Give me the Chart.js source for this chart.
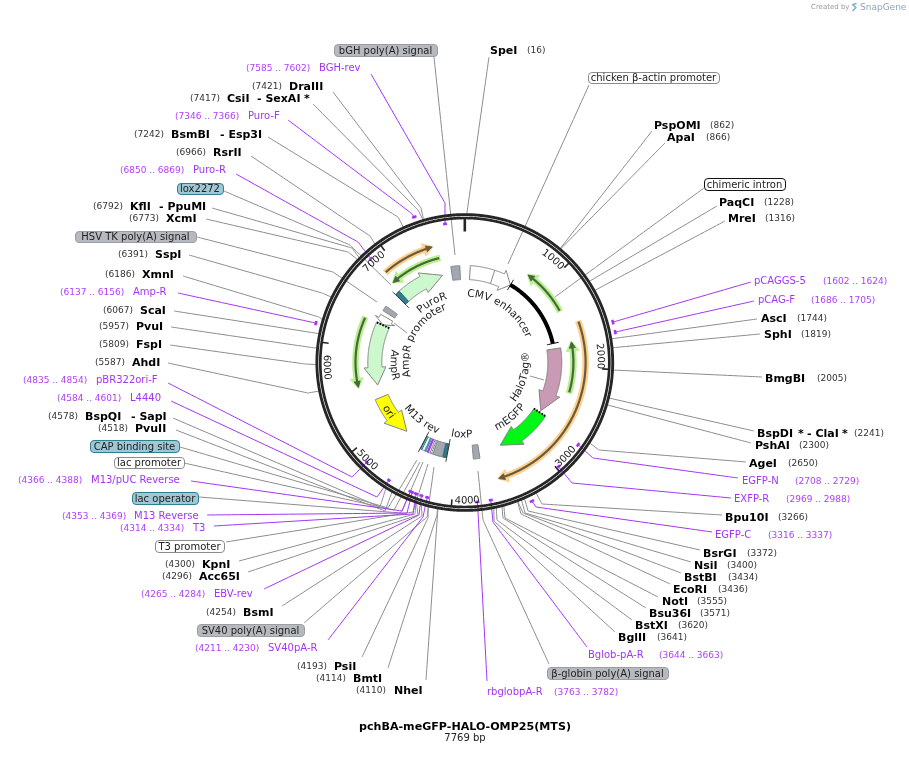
<!DOCTYPE html>
<html>
<head>
<meta charset="utf-8">
<title>pchBA-meGFP-HALO-OMP25(MTS)</title>
<style>
  html, body { margin: 0; padding: 0; background: #fff; }
  canvas { display: block; }
</style>
<script src="https://cdn.jsdelivr.net/npm/chart.js@4"></script>
</head>
<body>
<canvas id="mapa" width="909" height="775"></canvas>
<script>
// ===============================
// DATA
// ===============================
const plasmidName = "pchBA-meGFP-HALO-OMP25(MTS)";
const plasmidLength = 7769;
const tickValues = [1000, 2000, 3000, 4000, 5000, 6000, 7000];

const siteNames = ["SpeI", "PspOMI", "ApaI", "PaqCI", "MreI", "AscI", "SphI", "BmgBI", "BspDI", "PshAI", "AgeI", "Bpu10I", "BsrGI", "NsiI", "BstBI", "EcoRI", "NotI", "Bsu36I", "BstXI", "BglII", "NheI", "BmtI", "PsiI", "BsmI", "Acc65I", "KpnI", "PvuII", "BspQI", "AhdI", "FspI", "PvuI", "ScaI", "XmnI", "SspI", "XcmI", "KflI", "RsrII", "BsmBI", "CsiI", "DraIII"];
const sitePositions = [16, 862, 866, 1228, 1316, 1744, 1819, 2005, 2241, 2300, 2650, 3266, 3372, 3400, 3434, 3436, 3555, 3571, 3620, 3641, 4110, 4114, 4193, 4254, 4296, 4300, 4518, 4578, 5587, 5809, 5957, 6067, 6186, 6391, 6773, 6792, 6966, 7242, 7417, 7421];

const primerNames = ["pCAGGS-5", "pCAG-F", "EGFP-N", "EXFP-R", "EGFP-C", "Bglob-pA-R", "rbglobpA-R", "SV40pA-R", "EBV-rev", "T3", "M13 Reverse", "M13/pUC Reverse", "L4440", "pBR322ori-F", "Amp-R", "Puro-R", "Puro-F", "BGH-rev"];
const primerStarts = [1602, 1686, 2708, 2969, 3316, 3644, 3763, 4211, 4265, 4314, 4353, 4366, 4584, 4835, 6137, 6850, 7346, 7585];
const primerEnds = [1624, 1705, 2729, 2988, 3337, 3663, 3782, 4230, 4284, 4334, 4369, 4388, 4601, 4854, 6156, 6869, 7366, 7602];

const featureLabels = ["bGH poly(A) signal", "chicken β-actin promoter", "chimeric intron", "β-globin poly(A) signal", "SV40 poly(A) signal", "T3 promoter", "lac operator", "lac promoter", "CAP binding site", "HSV TK poly(A) signal", "lox2272"];

// ===============================
// LAYOUT (pixels of the 909x775 page)
// ===============================
const centro = { x: 464.8, y: 362.5 };

// [x of "(pos)", x of name, y, line start x, line start y, elbow x, elbow y]
const siteLayout = [
  [527, 490, 50, 489, 57, null, null],
  [710, 654, 125, 652, 131, null, null],
  [706, 667, 137, 665, 143, null, null],
  [764, 719, 202, 717, 206, null, null],
  [765, 728, 218, 725, 221, null, null],
  [797, 761, 318, 757, 319, null, null],
  [801, 764, 334, 760, 334, null, null],
  [817, 765, 378, 762, 377, null, null],
  [854, 757, 433, 754, 431, null, null],
  [799, 755, 445, 751, 443, null, null],
  [788, 749, 463, 746, 462, 599, 450],
  [778, 725, 517, 722, 515, 542, 504],
  [747, 703, 553, 700, 550, 528, 511],
  [727, 694, 565, 691, 562, 525, 513],
  [728, 684, 577, 681, 573, 523, 513],
  [718, 673, 589, 670, 584, 521, 514],
  [697, 662, 601, 658, 597, 505, 518],
  [700, 649, 613, 646, 608, 503, 518],
  [678, 635, 625, 632, 620, 497, 520],
  [657, 618, 637, 615, 632, 494, 521],
  [356, 394, 690, 426, 680, null, null],
  [316, 353, 678, 388, 668, 437, 515],
  [297, 334, 666, 362, 657, 428, 518],
  [206, 243, 612, 282, 606, 422, 516],
  [162, 199, 576, 248, 572, 418, 515],
  [165, 202, 564, 239, 561, 415, 514],
  [98, 135, 428, 176, 430, 385, 511],
  [48, 85, 416, 173, 418, 380, 507],
  [95, 132, 362, 168, 363, 308, 393],
  [99, 136, 344, 170, 345, 305, 364],
  [99, 136, 326, 171, 327, 315, 348],
  [103, 140, 310, 174, 311, 315, 333],
  [105, 142, 274, 183, 276, 319, 317],
  [118, 155, 254, 189, 255, 322, 293],
  [129, 166, 218, 206, 219, 348, 252],
  [93, 130, 206, 212, 208, 352, 248],
  [176, 213, 152, 251, 156, 370, 236],
  [134, 171, 134, 268, 137, 398, 217],
  [190, 227, 98, 313, 104, 418, 210],
  [252, 289, 86, 333, 92, 421, 208]
];
const siteExtras = [["- SexAI", 257, 98], ["*", 304, 98], ["- Esp3I", 220, 134], ["- PpuMI", 159, 206], ["- SapI", 131, 416], ["*", 798, 433], ["- ClaI", 807, 433], ["*", 842, 433]];

// [x of "(range)", x of name, y, line start x, line start y, elbow x, elbow y, radius of the mark]
const primerLayout = [
  [823, 754, 281, 751, 282, null, null, 153.5],
  [811, 758, 300, 754, 301, null, null, 153.5],
  [795, 742, 481, 738, 478, 593, 458, 140],
  [786, 734, 499, 731, 498, 572, 483, 140],
  [768, 715, 535, 712, 532, 536, 507, 154],
  [659, 588, 655, 587, 647, 493, 522, 140],
  [554, 487, 692, 487, 681, null, null, 140],
  [195, 268, 648, 328, 640, 423, 517, 140],
  [141, 214, 594, 264, 589, 419, 515, 140],
  [120, 193, 528, 214, 526, 413, 514, 140],
  [62, 134, 516, 207, 515, 407, 513, 140],
  [18, 91, 480, 191, 481, 402, 511, 140],
  [57, 130, 398, 171, 401, 377, 497, 140],
  [23, 96, 380, 168, 383, 352, 477, 140],
  [60, 133, 292, 178, 293, null, null, 154],
  [120, 193, 170, 236, 174, 358, 242, 140],
  [175, 248, 116, 288, 120, 411, 213, 154],
  [246, 319, 68, 371, 74, 445, 203, 140]
];

// [box left, box right, box top, box bottom, style, line start x, y, elbow x, y, end x, y]
const featureLayout = [
  [334, 437, 44, 56, "gris", 434, 57, null, null, 455, 255],
  [588, 719, 72, 83, "blanco", 589, 85, null, null, 508, 264],
  [704, 785, 178, 190, "negro", 704, 188, null, null, 555, 297],
  [547, 668, 667, 679, "gris", 549, 664, 483, 520, 478, 471],
  [197, 304, 624, 636, "gris", 304, 623, 427, 517, 434, 467],
  [155, 224, 540, 552, "blanco", 226, 542, 413, 512, 428, 464],
  [132, 198, 492, 504, "azul", 199, 497, 401, 513, 423, 462],
  [114, 184, 457, 468, "blanco", 184, 463, 394, 510, 420, 462],
  [90, 179, 440, 452, "azul", 180, 447, 388, 508, 417, 460],
  [75, 196, 231, 242, "gris", 197, 237, 333, 272, 377, 302],
  [177, 223, 183, 194, "azul", 224, 191, 350, 245, 391, 285]
];

const estilosCaja = {
  gris: { fondo: "#b6babf", borde: "#9a9ea4" },
  blanco: { fondo: "#ffffff", borde: "#8c8c8c" },
  negro: { fondo: "#ffffff", borde: "#111111" },
  azul: { fondo: "#9fc8d4", borde: "#2f7f93" }
};

const COLOR_SITIO = "#8c8c8c";
const COLOR_PRIMER = "#a334f5";

// ===============================
// GEOMETRY HELPERS
// ===============================
function polar(bp, r) {
  const a = bp / plasmidLength * 2 * Math.PI;
  return { x: centro.x + r * Math.sin(a), y: centro.y - r * Math.cos(a) };
}

function arco(desde, hasta, r) {
  const pasos = Math.max(2, Math.ceil(Math.abs(hasta - desde) / 12));
  const puntos = [];
  for (let i = 0; i <= pasos; i++) {
    puntos.push(polar(desde + (hasta - desde) * i / pasos, r));
  }
  return puntos;
}

function pxABp(px, r) {
  return px / r / (2 * Math.PI) * plasmidLength;
}

const datasets = [];

function capa(data, opciones) {
  datasets.push(Object.assign({
    data: data,
    showLine: true,
    pointRadius: 0,
    borderWidth: 1,
    borderColor: COLOR_SITIO,
    // tension 0 makes Chart.js use its fast path, which breaks lines that go back on x
    tension: 0.0001,
    fill: false,
    borderCapStyle: "butt",
    order: -datasets.length
  }, opciones));
}

// Arrow shaped feature: body from inicio to cabeza, head ends at punta
function flecha(inicio, cabeza, punta, color, rIn, rOut, borde) {
  rIn = rIn || 83;
  rOut = rOut || 97;
  const puntos = arco(inicio, cabeza, rOut)
    .concat([polar(cabeza, rOut + 4), polar(punta, (rIn + rOut) / 2), polar(cabeza, rIn - 4)])
    .concat(arco(cabeza, inicio, rIn));
  puntos.push(puntos[0]);
  capa(puntos, { polyFill: color, borderColor: borde || "#7f7f7f" });
}

function bloque(a, b, color, borde, rIn, rOut) {
  rIn = rIn || 83;
  rOut = rOut || 97;
  const puntos = arco(a, b, rOut).concat(arco(b, a, rIn));
  puntos.push(puntos[0]);
  capa(puntos, { polyFill: color, borderColor: borde || color });
}

// Thin arc with a halo and an arrow head, as used for the translated regions
function arcoHalo(cola, punta, r, halo, linea) {
  const dir = Math.sign(punta - cola);
  const base = punta - dir * pxABp(9, r);
  capa(arco(cola, base, r), { borderColor: halo, borderWidth: 6.5 });
  const cabezaHalo = [polar(base, r + 6.5), polar(punta + dir * pxABp(1, r), r), polar(base, r - 6.5)];
  cabezaHalo.push(cabezaHalo[0]);
  capa(cabezaHalo, { polyFill: halo, borderColor: halo });
  const baseLinea = punta - dir * pxABp(6, r);
  capa(arco(cola + dir * pxABp(1, r), baseLinea, r), { borderColor: linea, borderWidth: 2.2 });
  const cabeza = [polar(baseLinea, r + 3), polar(punta, r), polar(baseLinea, r - 3)];
  cabeza.push(cabeza[0]);
  capa(cabeza, { polyFill: linea, borderColor: linea });
}

function radial(bp, r1, r2, color, ancho, dash) {
  capa([polar(bp, r1), polar(bp, r2)], { borderColor: color, borderWidth: ancho, borderDash: dash || [] });
}

// ===============================
// LEADER LINES
// ===============================
function guia(ini, codo, fin, color) {
  const puntos = [ini];
  if (codo.x !== null) puntos.push(codo);
  puntos.push(fin);
  capa(puntos, { borderColor: color, borderWidth: 1 });
}

featureLabels.forEach((n, i) => {
  const f = featureLayout[i];
  guia({ x: f[5], y: f[6] }, { x: f[7], y: f[8] }, { x: f[9], y: f[10] }, COLOR_SITIO);
});
capa([{ x: 530, y: 376 }, { x: 544, y: 380 }], { borderColor: COLOR_SITIO });
capa([{ x: 394, y: 323 }, { x: 407, y: 333 }], { borderColor: COLOR_SITIO });

siteNames.forEach((n, i) => {
  const s = siteLayout[i];
  guia({ x: s[3], y: s[4] }, { x: s[5], y: s[6] }, polar(sitePositions[i], 148), COLOR_SITIO);
});

primerNames.forEach((n, i) => {
  const p = primerLayout[i];
  const medio = (primerStarts[i] + primerEnds[i]) / 2;
  guia({ x: p[3], y: p[4] }, { x: p[5], y: p[6] }, polar(medio, p[7]), COLOR_PRIMER);
});

// ===============================
// BACKBONE
// ===============================
capa(arco(0, plasmidLength, 147.9), { borderColor: "#262626", borderWidth: 2.9 });
capa(arco(0, plasmidLength, 144.5), { borderColor: "#262626", borderWidth: 2.7 });
radial(0, 131, 145, "#262626", 2.6);
tickValues.forEach(t => radial(t, 137.5, 145, "#262626", 1.6));

primerNames.forEach((n, i) => {
  capa(arco(primerStarts[i] - 8, primerEnds[i] + 8, primerLayout[i][7]), { borderColor: COLOR_PRIMER, borderWidth: 2.6 });
});

// ===============================
// FEATURES
// ===============================
arcoHalo(1336, 775, 108, "#b8f08e", "#47683a");
arcoHalo(2298, 1707, 108.6, "#b8f08e", "#47683a");
arcoHalo(7484, 6865, 107.5, "#b8f08e", "#47683a");
arcoHalo(6360, 5542, 109.3, "#b8f08e", "#47683a");
arcoHalo(1506, 3533, 120.8, "#fed08d", "#6a5a3e");
arcoHalo(6870, 7428, 120, "#fed08d", "#6a5a3e");

bloque(7590, 7705, "#a3a8b0", "#7f858c");
bloque(3690, 3775, "#a3a8b0", "#7f858c");
bloque(6525, 6595, "#a3a8b0", "#7f858c");

flecha(70, 520, 658, "#ffffff");
radial(388, 83, 97, "#7f7f7f", 1);

capa(arco(658, 1680, 90), { borderColor: "#000000", borderWidth: 4 });
radial(658, 84, 96, "#000000", 1);
radial(1680, 84, 96, "#000000", 1);

flecha(1755, 2375, 2641, "#c99ab3");
flecha(2670, 3108, 3384, "#00f614");
radial(2668, 83, 97, "#000000", 2, [1.5, 1.5]);

flecha(6816, 7174, 7459, "#cdf8cd");
bloque(6790, 6850, "#2f7f93", "#24616f", 83, 97);
radial(6785, 78, 101, "#333333", 1);

flecha(6360, 5760, 5514, "#cdf8cd");
flecha(6470, 6426, 6360, "#ffffff");
radial(6355, 83, 97, "#000000", 2, [1.5, 1.5]);

flecha(5340, 5030, 4750, "#ffff00");

// cluster around the lac region
bloque(4120, 4470, "#ffffff", "#7f7f7f");
bloque(4450, 4470, "#6fb6cb", "#2f7f93");
bloque(4395, 4412, "#6fb6cb", "#2f7f93");
bloque(4360, 4378, "#a334f5", "#a334f5");
bloque(4318, 4338, "#ffffff", "#7f7f7f");
bloque(4175, 4300, "#a3a8b0", "#7f858c");
bloque(4130, 4165, "#2f7f93", "#24616f");
radial(4476, 78, 101, "#333333", 1);
radial(4118, 78, 101, "#333333", 1);

// SnapGene mark next to the credit
capa([{ x: 856.5, y: 3.5 }, { x: 852.5, y: 4.5 }, { x: 856, y: 7.5 }, { x: 852.5, y: 11 }], { borderColor: "#7fb4cf", borderWidth: 1.6 });

// ===============================
// TEXT
// ===============================
const FUENTE = '"DejaVu Sans", Verdana, sans-serif';

function texto(ctx, s, x, y, fuente, color, align) {
  ctx.font = fuente + " " + FUENTE;
  ctx.fillStyle = color;
  ctx.textAlign = align || "left";
  ctx.textBaseline = "middle";
  ctx.fillText(s, x, y);
}

// Text following the circle. sentido 1 reads clockwise, -1 counter clockwise.
function textoCurvo(ctx, esc, s, grados, r, sentido, fuente) {
  ctx.font = fuente + " " + FUENTE;
  ctx.fillStyle = "#222222";
  ctx.textAlign = "left";
  ctx.textBaseline = "alphabetic";
  const total = ctx.measureText(s).width;
  let recorrido = -total / 2;
  for (const c of s) {
    const ancho = ctx.measureText(c).width;
    const ang = grados * Math.PI / 180 + sentido * (recorrido + ancho / 2) / r;
    const px = esc.x.getPixelForValue(centro.x + r * Math.sin(ang));
    const py = esc.y.getPixelForValue(centro.y - r * Math.cos(ang));
    ctx.save();
    ctx.translate(px, py);
    ctx.rotate(sentido > 0 ? ang : ang - Math.PI);
    ctx.fillText(c, -ancho / 2, 0);
    ctx.restore();
    recorrido += ancho;
  }
}

// Inner labels: text, centre angle, baseline radius, direction
const etiquetasInternas = [
  ["CMV enhancer", 35, 66, 1],
  ["PuroR", 331, 66, 1],
  ["AmpR promoter", 298, 56, 1],
  ["AmpR", 268, 74, -1],
  ["HaloTag®", 105, 64, -1],
  ["mEGFP", 140.5, 75, -1],
  ["M13 rev", 217, 76, -1],
  ["loxP", 182.5, 75, -1],
  ["ori", 237, 94, -1]
];

// Tick labels: centre angle, baseline radius, direction
const etiquetasTicks = [
  [40.6, 133, 1],
  [87.4, 133, 1],
  [133, 141, -1],
  [179, 141, -1],
  [225, 141, -1],
  [268, 141, -1],
  [318, 133, 1]
];

const mapaPlugin = {
  id: "mapaPlugin",
  beforeDatasetDraw(chart, args) {
    const ds = chart.data.datasets[args.index];
    if (!ds.polyFill) return;
    const ctx = chart.ctx;
    ctx.save();
    ctx.beginPath();
    args.meta.data.forEach((p, i) => {
      if (i === 0) ctx.moveTo(p.x, p.y); else ctx.lineTo(p.x, p.y);
    });
    ctx.closePath();
    ctx.fillStyle = ds.polyFill;
    ctx.fill();
    ctx.restore();
  },
  afterDatasetsDraw(chart) {
    const ctx = chart.ctx;
    const esc = chart.scales;
    const X = v => esc.x.getPixelForValue(v);
    const Y = v => esc.y.getPixelForValue(v);
    ctx.save();

    siteNames.forEach((n, i) => {
      const s = siteLayout[i];
      texto(ctx, "(" + sitePositions[i] + ")", X(s[0]), Y(s[2] + 1), "9px", "#333333");
      texto(ctx, n, X(s[1]), Y(s[2] + 0.8), "bold 11px", "#000000");
    });
    siteExtras.forEach(e => texto(ctx, e[0], X(e[1]), Y(e[2] + 0.8), "bold 11px", "#000000"));

    primerNames.forEach((n, i) => {
      const p = primerLayout[i];
      texto(ctx, "(" + primerStarts[i] + " .. " + primerEnds[i] + ")", X(p[0]), Y(p[2] + 1), "9px", "#b040f8");
      texto(ctx, n, X(p[1]), Y(p[2] + 0.8), "10px", "#a334f5");
    });

    featureLabels.forEach((n, i) => {
      const f = featureLayout[i];
      const st = estilosCaja[f[4]];
      ctx.beginPath();
      ctx.roundRect(X(f[0]) + 0.5, Y(f[2]) + 0.5, X(f[1]) - X(f[0]), Y(f[3]) - Y(f[2]), 3.5);
      ctx.fillStyle = st.fondo;
      ctx.fill();
      ctx.lineWidth = 1;
      ctx.strokeStyle = st.borde;
      ctx.stroke();
      texto(ctx, n, X((f[0] + f[1]) / 2), Y((f[2] + f[3]) / 2) + 1, "10px", "#222222", "center");
    });

    etiquetasInternas.forEach(e => textoCurvo(ctx, esc, e[0], e[1], e[2], e[3], "10.5px"));
    tickValues.forEach((t, i) => {
      const e = etiquetasTicks[i];
      textoCurvo(ctx, esc, String(t), e[0], e[1], e[2], "10px");
    });

    texto(ctx, plasmidName, X(465), Y(727), "bold 11.1px", "#000000", "center");
    texto(ctx, plasmidLength + " bp", X(465), Y(738.5), "10px", "#222222", "center");
    texto(ctx, "Created by", X(811), Y(7.5), "7px", "#9a9a9a");
    texto(ctx, "SnapGene", X(860), Y(7.5), "9px", "#8fa6b5");
    ctx.restore();
  }
};

// ===============================
// CHART
// ===============================
new Chart(document.getElementById("mapa").getContext("2d"), {
  type: "scatter",
  data: { datasets: datasets },
  plugins: [mapaPlugin],
  options: {
    responsive: false,
    animation: false,
    events: [],
    layout: { padding: 0 },
    plugins: { legend: { display: false }, tooltip: { enabled: false } },
    scales: {
      x: { type: "linear", display: false, min: 0, max: 909 },
      y: { type: "linear", display: false, min: 0, max: 775, reverse: true }
    }
  }
});
</script>
</body>
</html>
